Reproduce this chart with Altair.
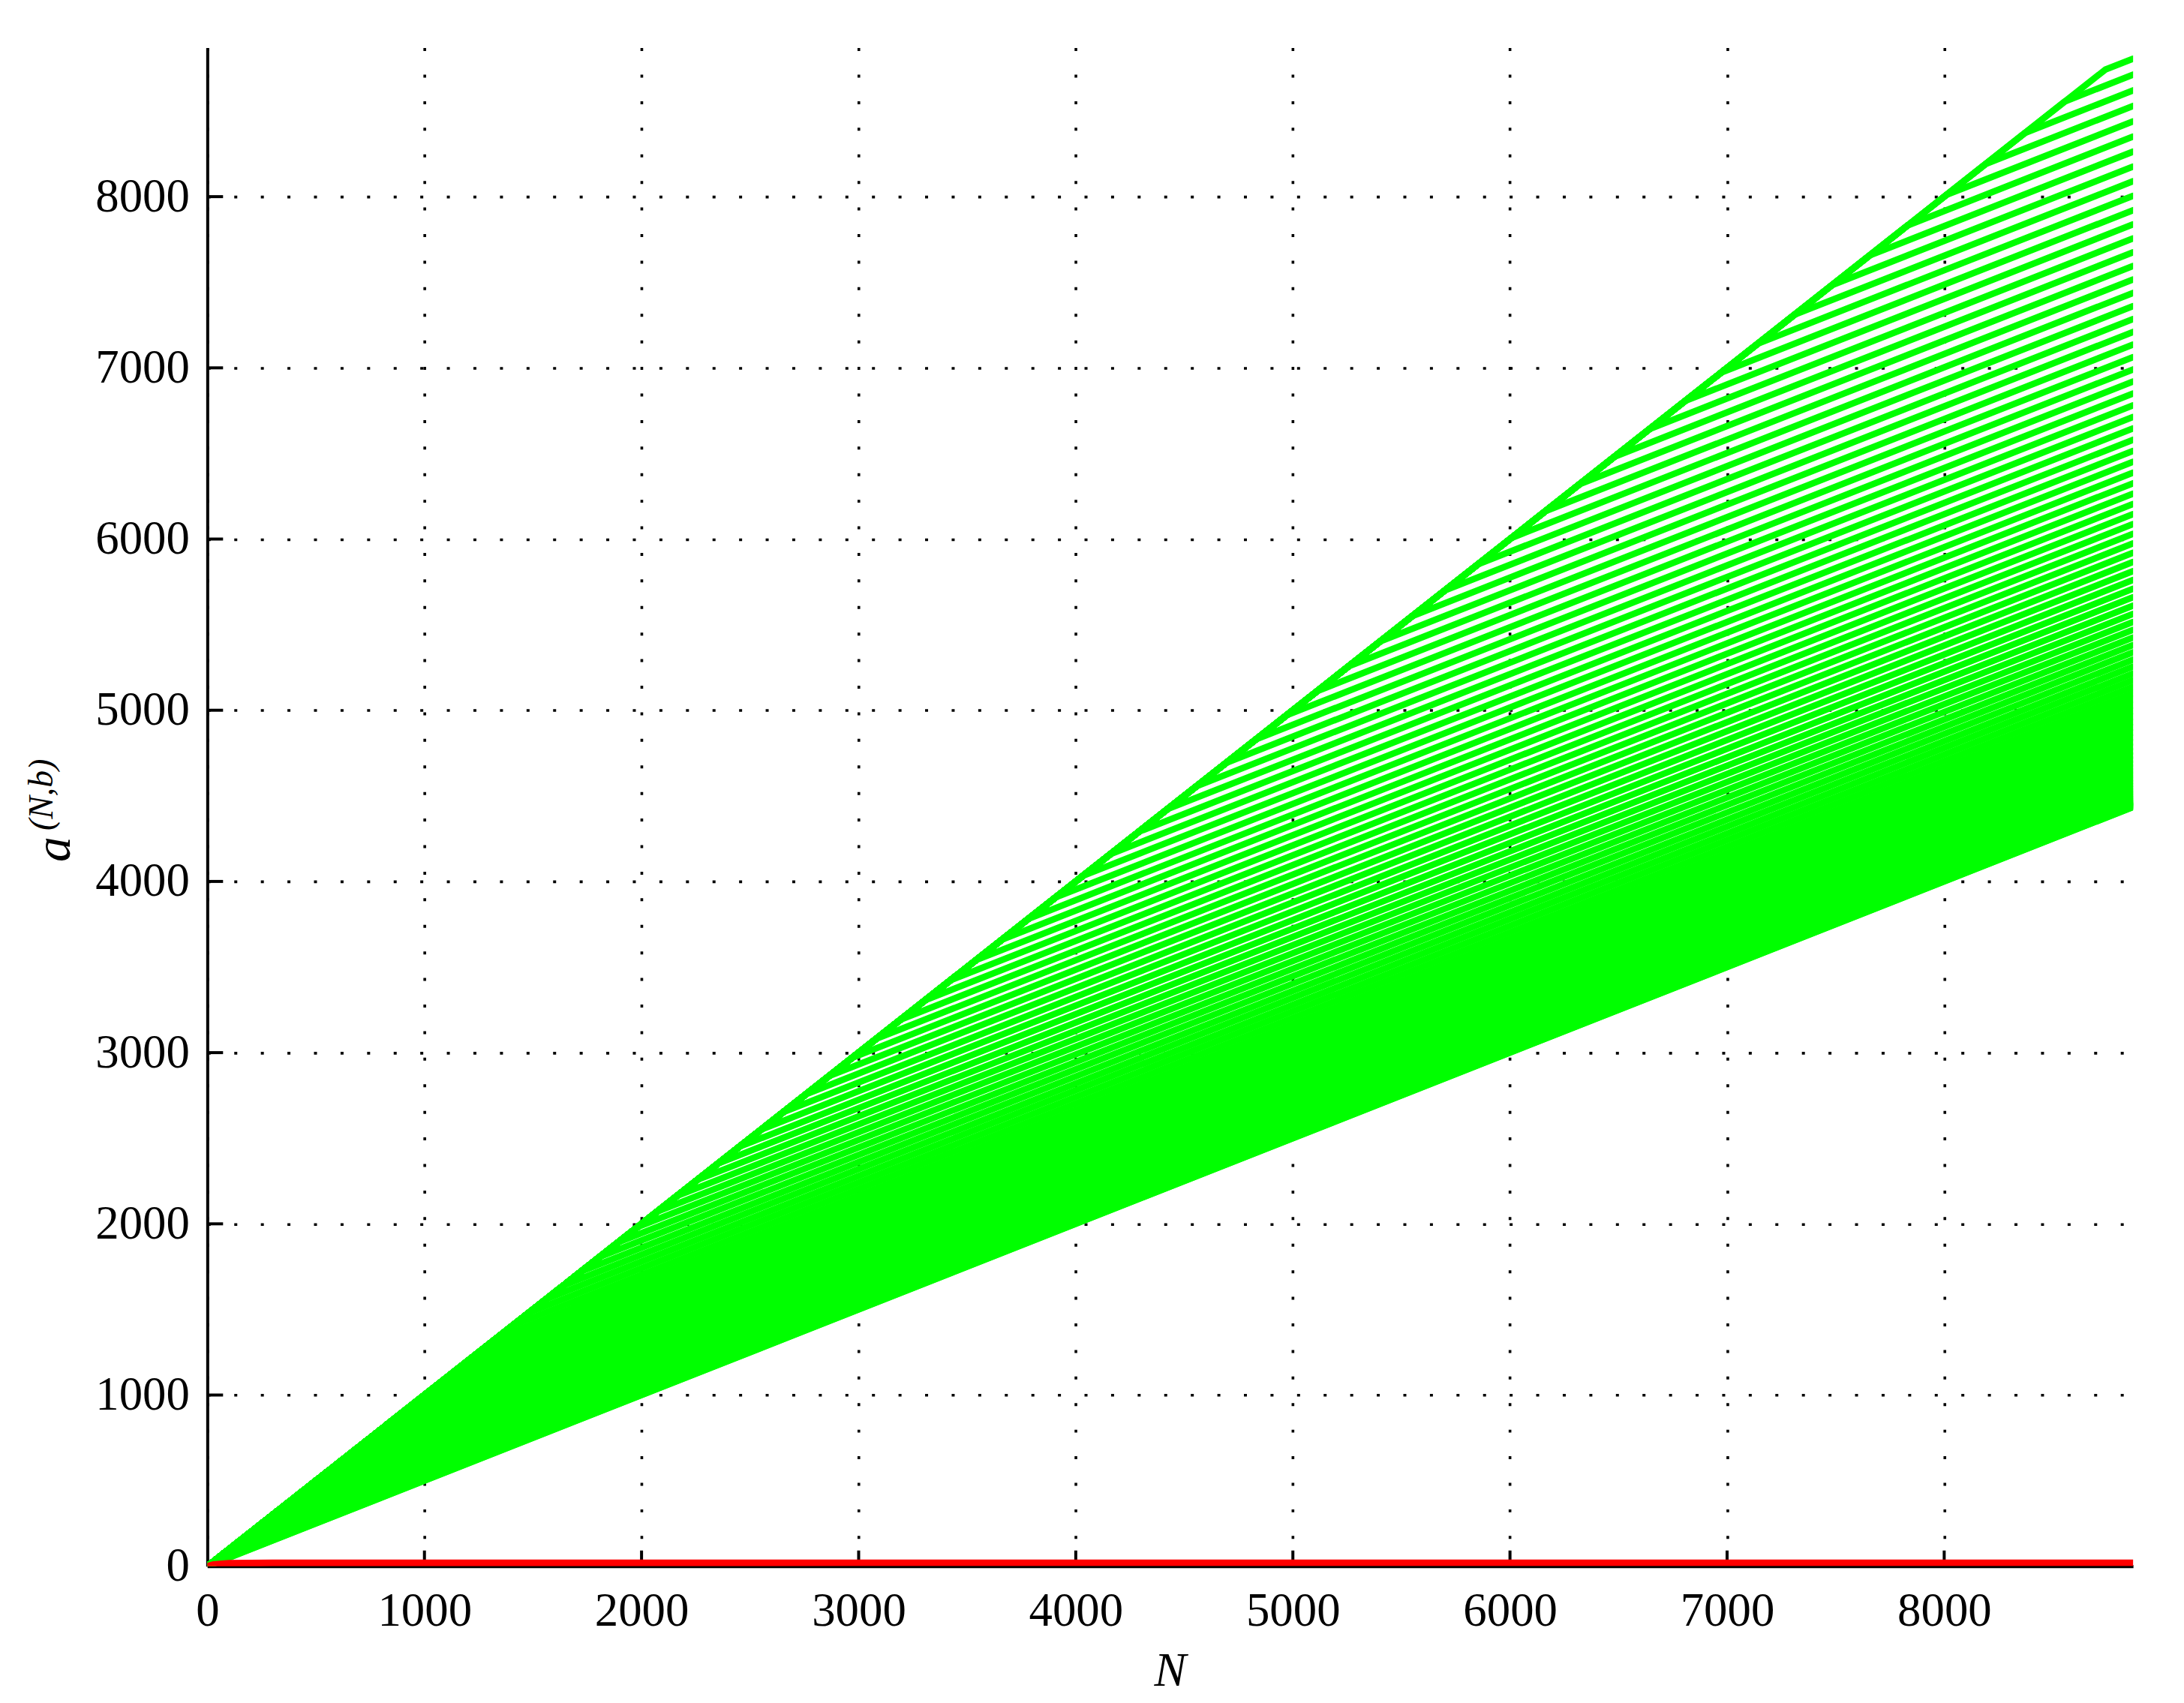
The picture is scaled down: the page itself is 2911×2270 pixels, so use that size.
import altair as alt
import pandas as pd

# ---- data ----
N_MAX = 8870

# N at which each green curve leaves the a = N diagonal
kink_n = [0, 2, 6, 12, 20, 30, 42, 56, 72, 90, 110, 132, 156, 182, 210, 240, 272, 306,
          342, 380, 420, 462, 506, 552, 600, 650, 702, 756, 812, 870, 930, 992, 1056,
          1122, 1190, 1260, 1332, 1406, 1482, 1560, 1640, 1722, 1806, 1892, 1980, 2070,
          2162, 2256, 2352, 2450, 2550, 2652, 2756, 2862, 2970, 3080, 3192, 3306, 3422,
          3540, 3660, 3782, 3906, 4032, 4160, 4290, 4422, 4556, 4692, 4830, 4970, 5112,
          5256, 5402, 5550, 5700, 5852, 6006, 6162, 6320, 6480, 6642, 6806, 6972, 7140,
          7310, 7482, 7656, 7832, 8010, 8190, 8372, 8556, 8742]

# value of each green curve at the right edge (N = N_MAX)
end_a = [4435, 4436, 4438, 4441, 4445, 4450, 4456, 4463, 4471, 4480, 4490, 4501, 4513,
         4526, 4540, 4555, 4571, 4588, 4606, 4625, 4645, 4666, 4688, 4711, 4735, 4760,
         4786, 4813, 4841, 4870, 4900, 4931, 4963, 4996, 5030, 5065, 5101, 5138, 5176,
         5215, 5255, 5296, 5338, 5381, 5425, 5470, 5516, 5563, 5611, 5660, 5710, 5761,
         5813, 5866, 5920, 5975, 6031, 6088, 6146, 6205, 6265, 6326, 6388, 6451, 6515,
         6580, 6646, 6713, 6781, 6850, 6920, 6991, 7063, 7136, 7210, 7285, 7361, 7438,
         7516, 7595, 7675, 7756, 7838, 7921, 8005, 8090, 8176, 8263, 8351, 8440, 8530,
         8621, 8713, 8806]

# red curve near zero
red_n = [0, 30, 100, 300, 1000, 3000, 6000, N_MAX]
red_a = [0, 10, 17, 19, 19, 20, 20, 20]

x_ticks = [0, 1000, 2000, 3000, 4000, 5000, 6000, 7000, 8000]
y_ticks = [0, 1000, 2000, 3000, 4000, 5000, 6000, 7000, 8000]

# ---- tables ----
rows = []
for i, (b, e) in enumerate(zip(kink_n, end_a)):
    rows.append({"line": i, "o": 0, "N": 0, "a": 0})
    rows.append({"line": i, "o": 1, "N": b, "a": b})
    rows.append({"line": i, "o": 2, "N": N_MAX, "a": e})
green = pd.DataFrame(rows)
red = pd.DataFrame({"N": red_n, "a": red_a, "o": list(range(len(red_n)))})

W, H = 2573, 2029
FONT = "Liberation Serif"

xs = alt.Scale(domain=[0, N_MAX], nice=False, zero=False)
ys = alt.Scale(domain=[0, N_MAX], nice=False, zero=False)

common = dict(grid=True, gridColor="black", gridDash=[4, 31.5], gridWidth=3.6,
              gridOpacity=1, domainColor="black", domainWidth=4, ticks=False,
              tickSize=0, labelFont=FONT, labelFontSize=63, labelColor="black",
              format="d", labelFlush=False, labelOverlap=False)
x_axis = alt.Axis(values=x_ticks, labelPadding=29, **common)
y_axis = alt.Axis(values=y_ticks, labelPadding=24, **common)

xtick = alt.Chart(pd.DataFrame({"N": x_ticks[1:]})).mark_rule(
    color="black", strokeWidth=4).encode(
    x=alt.X("N:Q", scale=xs, axis=x_axis, title=None),
    y=alt.value(H), y2=alt.value(H - 21))

ytick = alt.Chart(pd.DataFrame({"a": y_ticks[1:]})).mark_rule(
    color="black", strokeWidth=4).encode(
    y=alt.Y("a:Q", scale=ys, axis=y_axis, title=None),
    x=alt.value(0), x2=alt.value(21))

green_layer = alt.Chart(green).mark_line(
    color="#00ff00", strokeWidth=8.6, clip=True, strokeCap="round",
    strokeJoin="round").encode(
    x=alt.X("N:Q", scale=xs),
    y=alt.Y("a:Q", scale=ys),
    detail="line:N", order="o:Q")

red_layer = alt.Chart(red).mark_line(
    color="#ff0000", strokeWidth=9, clip=True, strokeCap="round",
    strokeJoin="round").encode(
    x=alt.X("N:Q", scale=xs),
    y=alt.Y("a:Q", scale=ys),
    order="o:Q")

def label(txt, x, y, size, angle=0, align="left"):
    return alt.Chart(pd.DataFrame({"t": [txt]})).mark_text(
        font=FONT, fontStyle="italic", fontSize=size, angle=angle, align=align,
        baseline="alphabetic", color="black").encode(
        x=alt.value(x), y=alt.value(y), text="t:N")

ylab_a = label("a", -183.6, 1088, 68, angle=270)
ylab_sup = label("(N,b)", -207, 1046, 46, angle=270)
xlab = label("N", W / 2, 2189, 64, align="center")

chart = alt.layer(xtick, ytick, green_layer, red_layer, ylab_a, ylab_sup, xlab).properties(
    width=W, height=H,
    padding={"left": 269, "top": 53, "right": 60, "bottom": 170},
    autosize=alt.AutoSizeParams(type="none"),
    background="white",
).configure_view(strokeWidth=0)

chart.save("out.html", embed_options={"renderer": "svg", "actions": False})
